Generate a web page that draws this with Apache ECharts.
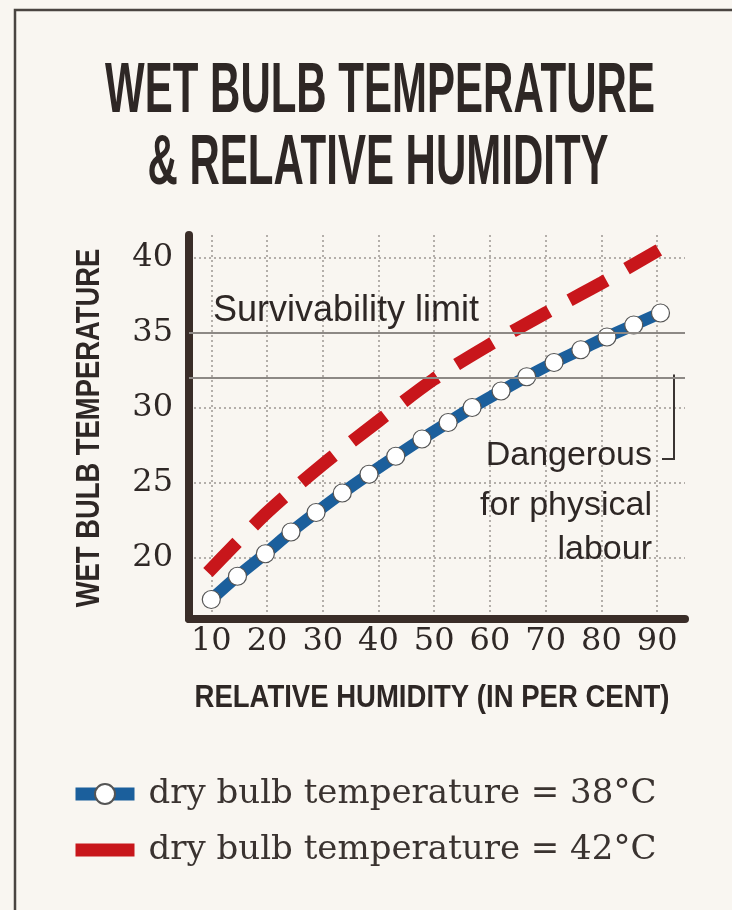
<!DOCTYPE html>
<html>
<head>
<meta charset="utf-8">
<script src="https://cdn.jsdelivr.net/npm/echarts@6/dist/echarts.min.js"></script>
<style>
html, body { margin: 0; padding: 0; background: #f9f6f1; }
#chart { width: 732px; height: 910px; }
</style>
</head>
<body>
<div id="chart"></div>
<script>
// values
var rhTicks = [10, 20, 30, 40, 50, 60, 70, 80, 90];
var wbTicks = [20, 25, 30, 35, 40];

// dry bulb 38C (blue, dotted with circles)
var rh38 = [10, 14.7, 19.7, 24.3, 28.8, 33.5, 38.3, 43.1, 47.8, 52.5, 56.8, 62.0, 66.6, 71.5, 76.3, 81.0, 85.8, 90.6];
var wb38 = [17.2, 18.75, 20.25, 21.7, 23.0, 24.3, 25.55, 26.75, 27.9, 29.0, 30.0, 31.1, 32.05, 33.0, 33.85, 34.7, 35.5, 36.3];

// dry bulb 42C (red, dashed)
var rh42 = [9.4, 20, 30, 40, 50, 60, 70, 80, 90.3];
var wb42 = [19.0, 23.0, 26.2, 29.1, 31.9, 34.2, 36.3, 38.3, 40.5];

var survivalLimit = 35;
var dangerLimit = 32;
var seriesNames = ['dry bulb temperature = 38°C', 'dry bulb temperature = 42°C'];

function pairs(xs, ys) {
    var out = [];
    for (var i = 0; i < xs.length; i++) out.push([xs[i], ys[i]]);
    return out;
}

var chart = echarts.init(document.getElementById('chart'));
var sans = '"Liberation Sans", sans-serif';
var ink = '#2e2725';

var option = {
    backgroundColor: '#f9f6f1',
    animation: false,
    grid: { left: 189, top: 235, width: 496, height: 384, outerBoundsMode: 'none' },
    legend: {
        orient: 'vertical',
        left: 64,
        top: 772,
        itemWidth: 59,
        itemHeight: 25,
        itemGap: 22,
        selectedMode: false,
        textStyle: { fontFamily: 'DejaVu Serif', fontSize: 34, color: '#3a3330', padding: [0, 0, 0, 9] },
        lineStyle: { width: 13 },
        data: [
            { name: seriesNames[0] },
            // plain red bar, bbox padded so it keeps 13px height inside the 25px slot
            { name: seriesNames[1], icon: 'path://M0,0L0,0M0,6h59v13h-59zM0,25L0,25' }
        ]
    },
    xAxis: {
        type: 'value',
        min: 6,
        max: 95,
        axisLine: { lineStyle: { color: '#3a2d28', width: 8 } },
        axisTick: { show: false, customValues: rhTicks },
        axisLabel: { customValues: rhTicks, margin: 7, fontFamily: 'DejaVu Serif', fontSize: 32, color: '#2f2826' },
        splitLine: { show: true, lineStyle: { type: [2, 3], color: '#9d9892', width: 1.5 } }
    },
    yAxis: {
        type: 'value',
        min: 15.9,
        max: 41.5,
        axisLine: { show: true, lineStyle: { color: '#3a2d28', width: 8 } },
        axisTick: { show: false, customValues: wbTicks },
        axisLabel: { customValues: wbTicks, margin: 16, fontFamily: 'DejaVu Serif', fontSize: 32, color: '#2f2826' },
        splitLine: { show: true, lineStyle: { type: [2, 3], color: '#9d9892', width: 1.5 } }
    },
    series: [
        {
            name: 'limits',
            type: 'line',
            data: [],
            z: 1,
            markLine: {
                silent: true,
                symbol: 'none',
                label: { show: false },
                lineStyle: { type: 'solid', color: '#8d8985', width: 2 },
                data: [{ yAxis: survivalLimit }, { yAxis: dangerLimit }]
            }
        },
        {
            name: seriesNames[1],
            type: 'line',
            data: pairs(rh42, wb42),
            smooth: 0.3,
            showSymbol: false,
            symbol: 'none',
            z: 3,
            lineStyle: { color: '#c8161b', width: 13, type: [42, 23], cap: 'butt' },
            itemStyle: { color: '#c8161b' }
        },
        {
            name: seriesNames[0],
            type: 'line',
            data: pairs(rh38, wb38),
            smooth: 0.3,
            symbol: 'circle',
            symbolSize: 18,
            z: 4,
            lineStyle: { color: '#1b5f9c', width: 12 },
            itemStyle: { color: '#ffffff', borderColor: '#555555', borderWidth: 1.2 }
        }
    ]
};
chart.setOption(option);

// annotations and headings
var dangerY = chart.convertToPixel({ gridIndex: 0 }, [90, dangerLimit])[1];
chart.setOption({
    graphic: [
        { type: 'rect', shape: { x: 15, y: 10, width: 760, height: 940 }, style: { fill: 'none', stroke: '#4a4541', lineWidth: 2.5 }, z: 10 },
        { type: 'text', x: 380, y: 93, scaleX: 0.6, style: { text: 'WET BULB TEMPERATURE', font: 'bold 70px ' + sans, fill: ink, textAlign: 'center', textVerticalAlign: 'middle' } },
        { type: 'text', x: 378, y: 165, scaleX: 0.6, style: { text: '& RELATIVE HUMIDITY', font: 'bold 70px ' + sans, fill: ink, textAlign: 'center', textVerticalAlign: 'middle' } },
        { type: 'text', x: 90, y: 428, rotation: Math.PI / 2, scaleX: 0.83, style: { text: 'WET BULB TEMPERATURE', font: 'bold 33px ' + sans, fill: ink, textAlign: 'center', textVerticalAlign: 'middle' } },
        { type: 'text', x: 432, y: 698, scaleX: 0.86, style: { text: 'RELATIVE HUMIDITY (IN PER CENT)', font: 'bold 32px ' + sans, fill: ink, textAlign: 'center', textVerticalAlign: 'middle' } },
        { type: 'text', x: 213, y: 311, style: { text: 'Survivability limit', font: '36px ' + sans, fill: ink, textAlign: 'left', textVerticalAlign: 'middle' } },
        { type: 'text', x: 652, y: 456, style: { text: 'Dangerous', font: '34px ' + sans, fill: ink, textAlign: 'right', textVerticalAlign: 'middle' } },
        { type: 'text', x: 652, y: 506, style: { text: 'for physical', font: '34px ' + sans, fill: ink, textAlign: 'right', textVerticalAlign: 'middle' } },
        { type: 'text', x: 652, y: 550, style: { text: 'labour', font: '34px ' + sans, fill: ink, textAlign: 'right', textVerticalAlign: 'middle' } },
        { type: 'polyline', shape: { points: [[674, dangerY - 3], [674, 459], [662, 459]] }, style: { stroke: '#3a3432', lineWidth: 2, fill: 'none' } }
    ]
});
</script>
</body>
</html>
